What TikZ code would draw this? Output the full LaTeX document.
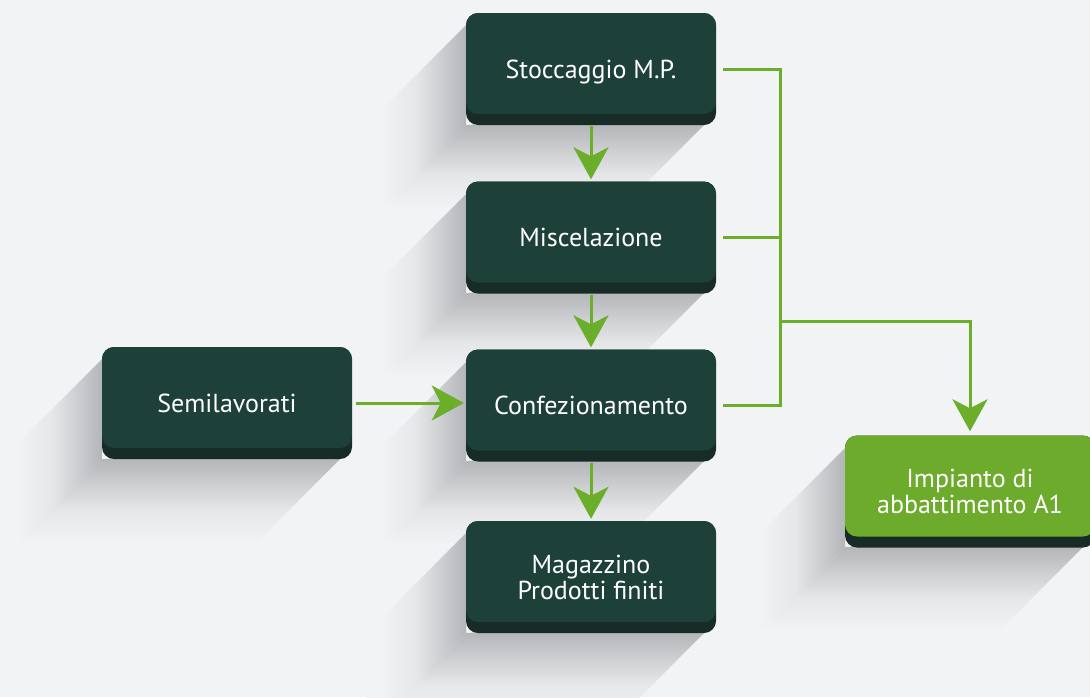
\documentclass[tikz,border=0pt]{standalone}
\usepackage{fontspec}
\setmainfont{PT Sans}
\usetikzlibrary{arrows.meta,positioning}

\definecolor{bgc}{HTML}{F2F3F5}
\definecolor{shadc}{HTML}{B3B5B8}
\colorlet{shadlo}{bgc!80!shadc}
\definecolor{boxc}{HTML}{1D4038}
\definecolor{bandc}{HTML}{172C26}
\definecolor{greenc}{HTML}{6CAB2B}
\definecolor{linec}{HTML}{6BAE2A}

%shadings for the long shadows (left part and bottom part)
\pgfdeclarehorizontalshading{shadeleft}{100bp}{color(0bp)=(bgc); color(32bp)=(bgc);
  color(50bp)=(shadlo); color(75bp)=(shadc); color(100bp)=(shadc)}
\pgfdeclareverticalshading{shadebottom}{100bp}{color(0bp)=(bgc); color(32bp)=(bgc);
  color(47bp)=(shadlo); color(70bp)=(shadc); color(100bp)=(shadc)}

\begin{document}
\begin{tikzpicture}
  [
    x=1pt, y=-1pt,
    >={Stealth[length=32pt,width=35pt,inset=9pt]},
    box/.style     = {rounded corners=12pt, fill=bandc, text=white, align=center,
                      minimum width=250pt, minimum height=112pt, inner sep=0pt,
                      font=\fontsize{26}{26}\selectfont,
                      path picture={\fill[#1, rounded corners=12pt]
                        (path picture bounding box.north west) rectangle
                        ([yshift=11pt]path picture bounding box.south east);}},
    box/.default   = boxc,
    oneline/.style = {text height=19pt, text depth=1pt},
    flow/.style    = {line width=3pt, draw=linec},
    arrow/.style   = {flow, ->},
  ]

%Picture frame
\fill[bgc] (0,0) rectangle (1090,697);
\clip (0,0) rectangle (1090,697);

%Length of the shadows and corner radius
\def \L{100}
\def \r{12}

%Long shadows behind the boxes: one part off the left side, one off the bottom
\foreach \xa/\ya/\xb/\yb in {466/13/716/125, 466/182/716/293, 466/350/716/461,
                             466/521/716/633, 102/347/352/459, 845/436/1095/547}
{
\shade[shading=shadeleft]
  (\xa,\ya+\r) -- (\xa-\L,\ya+\r+\L) -- (\xa-\L,\yb+\L) -- (\xa,\yb) -- cycle;
\shade[shading=shadebottom]
  (\xa,\yb) -- (\xa-\L,\yb+\L) -- (\xb-\L,\yb-\r+\L) -- (\xb,\yb-\r) -- cycle;
}

%Boxes
\node[box, oneline] (stock) at (591,69)    {Stoccaggio M.P.};
\node[box, oneline] (misc)  at (591,237.5) {Miscelazione};
\node[box, oneline] (conf)  at (591,405.5) {Confezionamento};
\node[box]          (mag)   at (591,577)   {Magazzino\\Prodotti finiti};
\node[box, oneline] (semi)  at (227,403)   {Semilavorati};
\node[box=greenc]   (imp)   at (970,491.5) {Impianto di\\abbattimento A1};

%Collector line on the right
\coordinate (bus) at (780,321);

%Main flow
\draw[arrow] ([yshift=-1pt]stock.south) -- ([yshift=2pt]misc.north);
\draw[arrow] ([yshift=-1pt]misc.south)  -- ([yshift=2pt]conf.north);
\draw[arrow] ([yshift=-1pt]conf.south)  -- ([yshift=2pt]mag.north);
\draw[arrow] ([xshift=4pt]semi.east) -- ([xshift=-2pt]semi.east -| conf.west);

%Exhaust to the abatement plant
\foreach \n in {stock,misc,conf}
{
\draw[flow] ([xshift=7pt]\n.east) -| (bus);
}
\draw[arrow] (bus) -| ([yshift=4pt]imp.north);
\end{tikzpicture}
\end{document}
